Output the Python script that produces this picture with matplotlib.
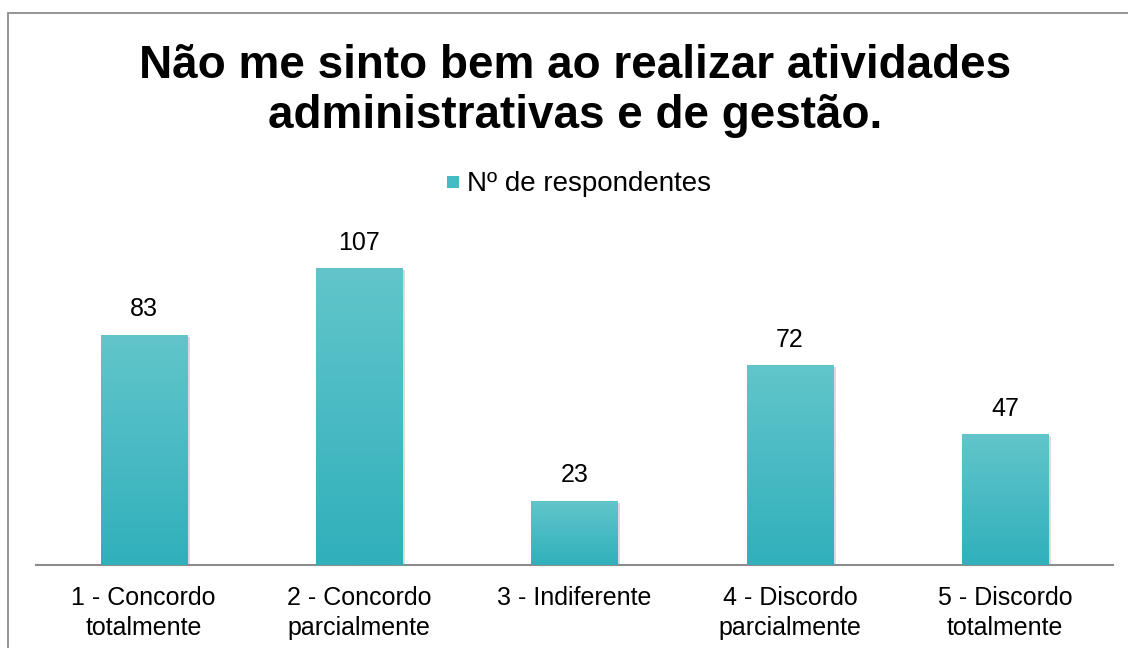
import numpy as np
import matplotlib
matplotlib.use("Agg")
import matplotlib.pyplot as plt
from matplotlib.patches import Rectangle
from matplotlib.colors import LinearSegmentedColormap
import matplotlib.patheffects as pe

plt.rcParams['font.family'] = ['Liberation Sans', 'DejaVu Sans']

title = "Não me sinto bem ao realizar atividades\nadministrativas e de gestão."
categories = ["1 - Concordo\ntotalmente", "2 - Concordo\nparcialmente", "3 - Indiferente",
              "4 - Discordo\nparcialmente", "5 - Discordo\ntotalmente"]
values = [83, 107, 23, 72, 47]
series_name = "Nº de respondentes"

W, H = 1128, 648
fig = plt.figure(figsize=(W / 100, H / 100), dpi=100)

# outer frame
fig.patches.append(Rectangle((8 / W, -0.1), 1.2, 1 - 13 / H + 0.1, transform=fig.transFigure,
                             fill=False, edgecolor='#8c8c8c', linewidth=1.3))

ax = fig.add_axes([36 / W, 1 - 565 / H, (1113 - 36) / W, (565 - 233) / H])
ax.set_xlim(-0.5, len(values) - 0.5)
ax.set_ylim(0, 120)

cmap = LinearSegmentedColormap.from_list("g", ["#30b0bb", "#62c5cb"])
grad = np.linspace(0, 1, 256).reshape(-1, 1)
x = np.arange(len(values))
bw = 0.4
bars = ax.bar(x, values, width=bw, color='#45bcc5', zorder=2,
              path_effects=[pe.SimplePatchShadow(offset=(2, -1), shadow_rgbFace='#999999', alpha=0.35),
                            pe.Normal()])
for b in bars:
    b.set_facecolor('none')
    b.set_edgecolor('none')
    x0, y0 = b.get_x(), b.get_y()
    ax.imshow(grad, cmap=cmap, origin='lower', aspect='auto',
              extent=[x0, x0 + b.get_width(), y0, y0 + b.get_height()], zorder=3)
for xi, v in zip(x, values):
    ax.annotate(str(v), (xi, v), xytext=(0, 10), textcoords='offset points',
                ha='center', va='bottom', fontsize=18, color='#000000')

for s in ['top', 'right', 'left']:
    ax.spines[s].set_visible(False)
ax.spines['bottom'].set_color('#8c8c8c')
ax.spines['bottom'].set_linewidth(1.5)
ax.set_yticks([])
ax.set_xticks(x)
ax.set_xticklabels(categories, fontsize=18, linespacing=1.35)
ax.tick_params(axis='x', length=0, pad=15)

fig.text(575 / W, 1 - 91 / H, title, ha='center', va='center', fontsize=33,
         fontweight='bold', linespacing=1.2)

# legend
lx, ly = 453, 182
fig.patches.append(Rectangle(((lx - 6) / W, 1 - (ly + 6) / H), 12 / W, 12 / H,
                             transform=fig.transFigure, facecolor='#45bcc5', edgecolor='none'))
fig.text(467 / W, 1 - (ly + 2) / H, series_name, ha='left', va='center', fontsize=20)

fig.savefig("out.png", dpi=100)
